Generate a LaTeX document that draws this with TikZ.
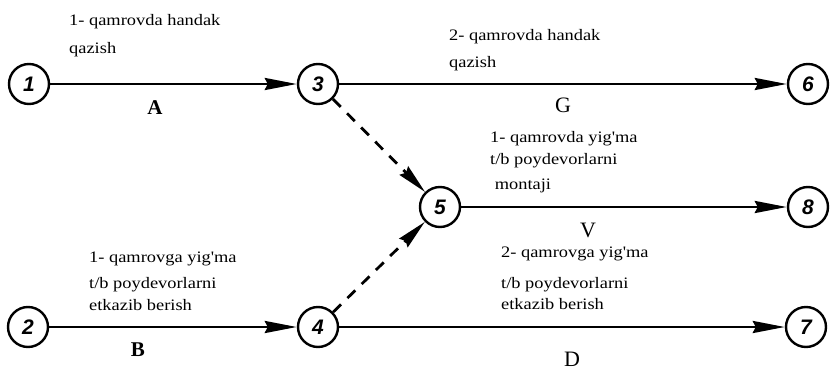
\documentclass[tikz,border=0pt]{standalone}
\usepackage{fontspec}
\setmainfont{Liberation Serif}
\newfontfamily\lblfont[FakeStretch=1.15]{Liberation Serif}
\newfontfamily\numfont{Liberation Sans}
\usetikzlibrary{arrows.meta}
\begin{document}
\begin{tikzpicture}[x=1pt,y=-1pt,
  event/.style={circle,draw,line width=2.4pt,minimum size=40pt,inner sep=0pt,
    font=\numfont\itshape\bfseries\fontsize{21}{21}\selectfont},
  job/.style={line width=2.8pt,-{Stealth[length=32pt,width=12pt,inset=3pt]}},
  dummy/.style={line width=2.8pt,dash pattern=on 11pt off 9pt,-{Stealth[length=30pt,width=12pt,inset=3pt]}},
  lbl/.style={anchor=base west,align=left,inner sep=0pt,
    font=\lblfont\fontsize{16}{24}\selectfont},
  letter/.style={inner sep=0pt,font=\fontsize{22}{22}\selectfont}]
\useasboundingbox (0,0) rectangle (831,370);
% events
\node[event] (n1) at (29,84) {1};
\node[event] (n3) at (318,84) {3};
\node[event] (n6) at (808,84) {6};
\node[event] (n5) at (440,207) {5};
\node[event] (n8) at (808,207) {8};
\node[event] (n2) at (28,327) {2};
\node[event] (n4) at (318,327) {4};
\node[event] (n7) at (806,327) {7};
% jobs
\draw[job] (n1) -- (n3);
\draw[job] (n3) -- (n6);
\draw[job] (n5) -- (n8);
\draw[job] (n2) -- (n4);
\draw[job] (n4) -- (n7);
\draw[dummy] (n3) -- (n5);
\draw[dummy] (n4) -- (n5);
% labels (anchor = baseline of last line)
\node[lbl] (t1) at (69,53) {1- qamrovda handak\\[4pt]qazish};
\node[lbl] (t2) at (449,67) {2- qamrovda handak\\[3pt]qazish};
\node[lbl] (t3) at (490,189) {1- qamrovda yig'ma\\[-2pt]t/b poydevorlarni\\[1pt]\ montaji};
\node[lbl] (t4) at (89,310) {1- qamrovga yig'ma\\[2pt]t/b poydevorlarni\\[-2pt]etkazib berish};
\node[lbl] (t5) at (501,309) {2- qamrovga yig'ma\\[7pt]t/b poydevorlarni\\[-3pt]etkazib berish};
\node[letter,font=\bfseries\fontsize{21}{21}\selectfont] (la) at (155,108) {A};
\node[letter] (lg) at (563,105) {G};
\node[letter] (lv) at (588,230) {V};
\node[letter,font=\bfseries\fontsize{21}{21}\selectfont] (lb) at (138,350) {B};
\node[letter] (ld) at (572,359) {D};
\end{tikzpicture}
\end{document}
